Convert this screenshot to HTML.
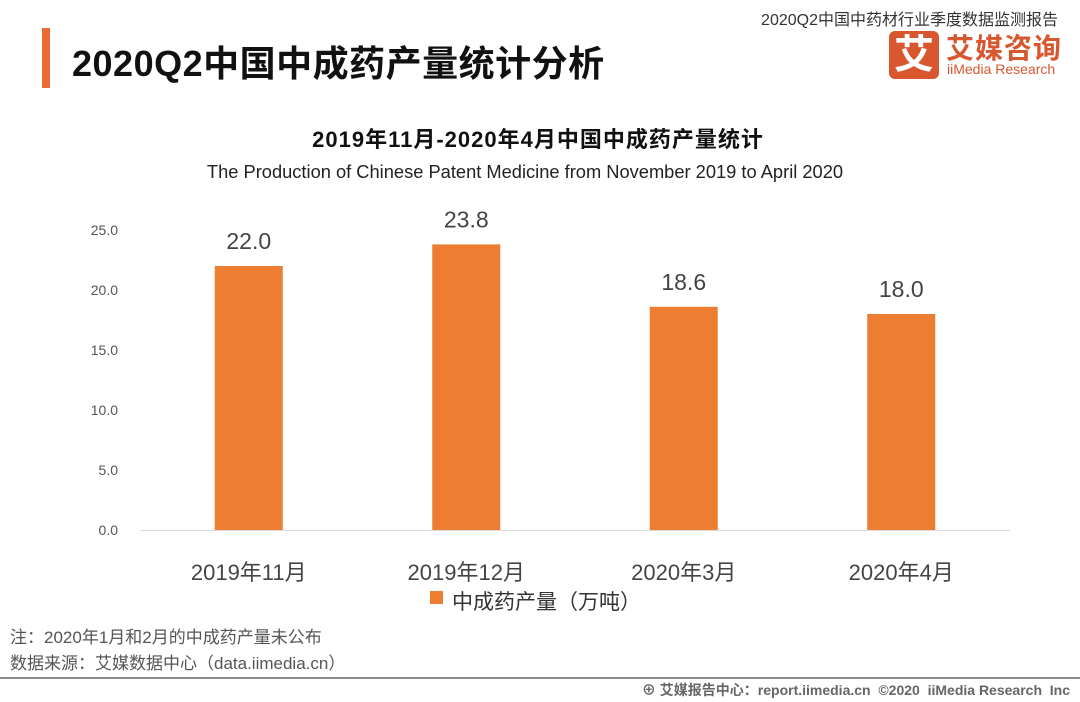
<!DOCTYPE html>
<html><head><meta charset="utf-8"><style>
body{margin:0;width:1080px;height:702px;background:#fff;position:relative;overflow:hidden;font-family:"Liberation Sans","Noto Sans CJK SC",sans-serif;color:#333}
.a{position:absolute;white-space:nowrap}
</style></head><body>
<div class="a" style="right:22px;top:6px;font-size:16px;color:#333">2020Q2中国中药材行业季度数据监测报告</div>
<div class="a" style="left:42px;top:28px;width:8px;height:60px;background:#ec6a33"></div>
<div class="a" style="left:72px;top:35px;font-size:36px;font-weight:bold;color:#111;letter-spacing:0.5px">2020Q2中国中成药产量统计分析</div>
<div class="a" style="left:889px;top:31px;width:50px;height:48px;background:#d9572f;border-radius:6px;color:#fff;font-size:40px;font-weight:bold;text-align:center;line-height:48px">艾</div>
<div class="a" style="left:946px;top:27px;font-size:28px;font-weight:bold;color:#d9572f;letter-spacing:1px">艾媒咨询</div>
<div class="a" style="left:947px;top:61px;font-size:14px;color:#d9572f">iiMedia Research</div>
<div class="a" style="left:0;width:1076px;text-align:center;top:122px;font-size:22px;font-weight:bold;color:#111;letter-spacing:1px">2019年11月-2020年4月中国中成药产量统计</div>
<div class="a" style="left:0;width:1050px;text-align:center;top:161px;font-size:18.3px;color:#222">The Production of Chinese Patent Medicine from November 2019 to April 2020</div>
<svg class="a" style="left:0;top:0" width="1080" height="702">
<g id="g"></g>
<rect x="430" y="591" width="13" height="13" fill="#ed7d31"/>
<text x="452" y="609" font-size="21" fill="#333">中成药产量（万吨）</text>
</svg>
<div class="a" style="left:10px;top:623px;font-size:17px;color:#555">注：2020年1月和2月的中成药产量未公布</div>
<div class="a" style="left:10px;top:649px;font-size:17px;color:#555">数据来源：艾媒数据中心（data.iimedia.cn）</div>
<div class="a" style="left:0;top:677px;width:1080px;height:2px;background:#888"></div>
<div class="a" style="right:10px;top:680px;font-size:14px;font-weight:bold;color:#666">⊕ 艾媒报告中心：report.iimedia.cn &nbsp;©2020 &nbsp;iiMedia Research &nbsp;Inc</div>
<script>
const categories=["2019年11月","2019年12月","2020年3月","2020年4月"];
const values=[22.0,23.8,18.6,18.0];
const ticks=[0,5,10,15,20,25];
const g=document.getElementById('g');
const NS='http://www.w3.org/2000/svg';
const x0=140,x1=1010,y0=530,yMax=25,yTop=230;
const y=v=>y0-(y0-yTop)*v/yMax;
const step=(x1-x0)/categories.length;
const xc=i=>x0+step*(i+0.5);
function mk(t,a){const e=document.createElementNS(NS,t);for(const k in a)e.setAttribute(k,a[k]);g.appendChild(e);return e;}
ticks.forEach(t=>{const e=mk('text',{x:118,y:y(t)+5,'font-size':14,fill:'#555','text-anchor':'end'});e.textContent=t.toFixed(1);

});
const ax=mk('line',{x1:x0,x2:x1,y1:y0+0.5,y2:y0+0.5,stroke:'#d9d9d9'});


categories.forEach((c,i)=>{
const r=mk('rect',{x:xc(i)-34,y:y(values[i]),width:68,height:y0-y(values[i]),fill:'#ed7d31'});


const v=mk('text',{x:xc(i),y:y(values[i])-17,'font-size':23,fill:'#444','text-anchor':'middle'});v.textContent=values[i].toFixed(1);


const l=mk('text',{x:xc(i),y:580,'font-size':22,fill:'#444','text-anchor':'middle'});l.textContent=c;


});
</script>
</body></html>
